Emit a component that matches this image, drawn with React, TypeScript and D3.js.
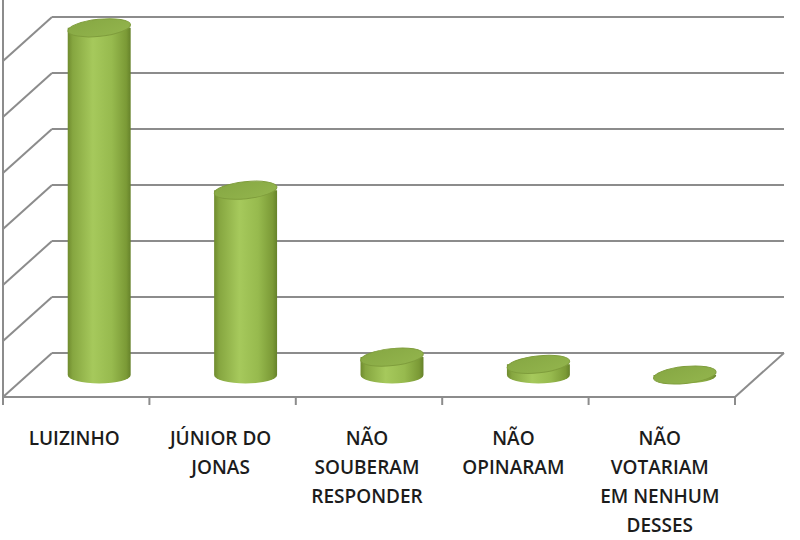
import React from "react";
import * as d3 from "d3";

const categories: string[][] = [
  ["LUIZINHO"],
  ["JÚNIOR DO", "JONAS"],
  ["NÃO", "SOUBERAM", "RESPONDER"],
  ["NÃO", "OPINARAM"],
  ["NÃO", "VOTARIAM", "EM NENHUM", "DESSES"],
];
const values: number[] = [62, 33, 3.2, 1.9, 0];
const gridTicks: number[] = [0, 10, 20, 30, 40, 50, 60];

const W = 800;
const H = 540;
const floorY = 397;
const left = 3;
const right = 735;
const depthX = 49;
const depthY = -44;
const unitPx = 56; // px per 10

export default function App() {
  const x = d3.scaleBand<number>().domain(categories.map((_, i) => i)).range([left, right]).padding(0);
  const y = d3.scaleLinear().domain([0, 60]).range([0, unitPx * 6]);
  const bw = x.bandwidth();
  const rx = bw * 0.215;
  const ry = 8.5;
  const midY = floorY + depthY / 2;
  const midShift = depthX / 2 - 1.5;

  return (
    <svg width={W} height={H} style={{ position: "absolute", left: 0, top: 0, background: "#fff" }}>
      <defs>
        <linearGradient id="body" x1="0" x2="1" y1="0" y2="0">
          <stop offset="0" stopColor="#6f8b2e" />
          <stop offset="0.08" stopColor="#86a640" />
          <stop offset="0.4" stopColor="#a6c95c" />
          <stop offset="0.7" stopColor="#97ba4e" />
          <stop offset="0.93" stopColor="#7b9a36" />
          <stop offset="1" stopColor="#66822a" />
        </linearGradient>
        <linearGradient id="top" x1="0" x2="1" y1="0" y2="1">
          <stop offset="0" stopColor="#86a743" />
          <stop offset="1" stopColor="#93b54d" />
        </linearGradient>
      </defs>
      {/* left wall axis */}
      <line x1={left} x2={left} y1={0} y2={floorY} stroke="#8c8c8c" strokeWidth={2} />
      {/* gridlines: left wall diagonals and back wall */}
      {gridTicks.map((t) => {
        const fy = floorY - y(t);
        return (
          <g key={t}>
            <line x1={left} y1={fy} x2={left + depthX} y2={fy + depthY} stroke="#8c8c8c" strokeWidth={2} />
            <line x1={left + depthX} y1={fy + depthY} x2={right + depthX} y2={fy + depthY} stroke="#8c8c8c" strokeWidth={2} />
          </g>
        );
      })}
      {/* floor front and right edges */}
      <line x1={left} x2={right} y1={floorY} y2={floorY} stroke="#8c8c8c" strokeWidth={2} />
      <line x1={right} y1={floorY} x2={right + depthX} y2={floorY + depthY} stroke="#8c8c8c" strokeWidth={2} />
      {/* ticks */}
      {[...categories.map((_, i) => x(i) as number), right].map((tx, i) => (
        <line key={i} x1={tx} x2={tx} y1={floorY} y2={floorY + 8} stroke="#8c8c8c" strokeWidth={2} />
      ))}
      {/* cylinders */}
      {values.map((v, i) => {
        const cx = (x(i) as number) + bw / 2 + midShift;
        const by = midY;
        const ty = midY - y(v);
        const body = `M${cx - rx},${ty} L${cx - rx},${by} A${rx},${ry} 0 0 0 ${cx + rx},${by} L${cx + rx},${ty} Z`;
        return (
          <g key={i}>
            <path d={body} fill="url(#body)" />
            <ellipse cx={cx} cy={ty} rx={rx} ry={ry} fill="url(#top)" stroke="#7f9d3c" strokeWidth={1}
              transform={`rotate(-6 ${cx} ${ty})`} />
          </g>
        );
      })}
      {/* labels */}
      {categories.map((lines, i) => (
        <text key={i} x={(x(i) as number) + bw / 2 - 2} y={445} textAnchor="middle"
          fontFamily="'Open Sans', sans-serif" fontSize={19} fontWeight={600} fill="#1c1c1c">
          {lines.map((l, j) => (
            <tspan key={j} x={(x(i) as number) + bw / 2 - 2} y={445 + j * 29}>{l}</tspan>
          ))}
        </text>
      ))}
    </svg>
  );
}
